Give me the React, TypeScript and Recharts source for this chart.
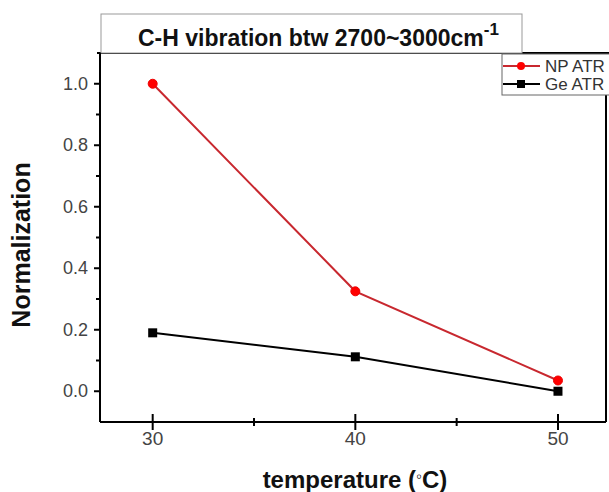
import React from "react";
import { LineChart, Line, XAxis, YAxis, Customized } from "recharts";

const temperatures = [30, 40, 50];
const npAtr = [1.0, 0.325, 0.035];
const geAtr = [0.19, 0.112, 0.0];
const xTicks = [30, 35, 40, 45, 50];
const xMajor = [30, 40, 50];
const yTicks = [0, 0.1, 0.2, 0.3, 0.4, 0.5, 0.6, 0.7, 0.8, 0.9, 1.0];
const yMajor = [0, 0.2, 0.4, 0.6, 0.8, 1.0];
const titleText = "C-H vibration btw 2700~3000cm";
const titleSup = "-1";
const xLabel = "temperature (";
const yLabel = "Normalization";
const seriesNames = ["NP ATR", "Ge ATR"];

const data = temperatures.map((t, i) => ({ t, np: npAtr[i], ge: geAtr[i] }));

const FONT = "Arial, 'Liberation Sans', sans-serif";

const XTick = (props: any) => {
  const { x, y, payload } = props;
  const major = xMajor.includes(payload.value);
  return (
    <g>
      <line x1={x} x2={x} y1={y - (major ? 8 : 4)} y2={y + (major ? 8 : 4)} stroke="#000" strokeWidth={2} />
      {major && (
        <text x={x} y={y + 23} textAnchor="middle" fontSize={19} fill="#444" fontFamily={FONT}>
          {payload.value}
        </text>
      )}
    </g>
  );
};

const YTick = (props: any) => {
  const { x, y, payload } = props;
  const major = yMajor.some((v) => Math.abs(v - payload.value) < 1e-6);
  return (
    <g>
      <line x1={x - (major ? 6 : 4)} x2={x} y1={y} y2={y} stroke="#000" strokeWidth={2} />
      {major && (
        <text x={x - 12} y={y + 6} textAnchor="end" fontSize={18} fill="#444" fontFamily={FONT}>
          {payload.value.toFixed(1)}
        </text>
      )}
    </g>
  );
};

const RedDot = (props: any) => {
  const { cx, cy, index } = props;
  return <circle key={"r" + index} cx={cx} cy={cy} r={4.5} fill="#ff0000" stroke="#e00" />;
};

const BlackSquare = (props: any) => {
  const { cx, cy, index } = props;
  return <rect key={"b" + index} x={cx - 4.5} y={cy - 4.5} width={9} height={9} fill="#000" />;
};

const Decorations = () => (
  <g fontFamily={FONT}>
    {/* frame top and right */}
    <line x1={97} x2={609} y1={53} y2={53} stroke="#000" strokeWidth={2} />
    <line x1={606} x2={606} y1={53} y2={422} stroke="#000" strokeWidth={2} />
    {/* title box */}
    <rect x={101} y={14} width={421} height={39} fill="#fff" stroke="#999" strokeWidth={1} />
    <text x={138} y={46} fontSize={23} fontWeight="bold" fill="#111">
      {titleText}
      <tspan dy={-11} fontSize={17}>{titleSup}</tspan>
    </text>
    {/* legend */}
    <rect x={502} y={54} width={120} height={41} fill="#fff" stroke="#666" strokeWidth={1} />
    <line x1={503} x2={540} y1={66} y2={66} stroke="#c8282f" strokeWidth={2} />
    <circle cx={521} cy={66} r={4} fill="#ff0000" />
    <text x={545} y={72} fontSize={17} fill="#333">{seriesNames[0]}</text>
    <line x1={503} x2={540} y1={84} y2={84} stroke="#000" strokeWidth={2} />
    <rect x={517} y={80} width={8} height={8} fill="#000" />
    <text x={545} y={90} fontSize={17} fill="#333">{seriesNames[1]}</text>
    {/* axis titles */}
    <text x={355} y={488} textAnchor="middle" fontSize={24} fontWeight="bold" fill="#111">
      {xLabel}
      <tspan fontWeight="normal" fontSize={17} dy={-6}>{"\u25E6"}</tspan>
      <tspan dy={6}>{"C)"}</tspan>
    </text>
    <text
      x={30}
      y={245}
      transform="rotate(-90 30 245)"
      textAnchor="middle"
      fontSize={25}
      fontWeight="bold"
      fill="#111"
    >
      {yLabel}
    </text>
  </g>
);

export default function App() {
  return (
    <div style={{ position: "absolute", left: 0, top: 0, background: "#fff" }}>
      <LineChart
        width={609}
        height={492}
        data={data}
        margin={{ top: 53, right: 3, bottom: 40, left: 40 }}
      >
        <XAxis
          dataKey="t"
          type="number"
          domain={[27.4, 52.37]}
          ticks={xTicks}
          tick={<XTick />}
          tickSize={0}
          tickMargin={0}
          tickLine={false}
          axisLine={{ stroke: "#000", strokeWidth: 2 }}
          height={30}
          interval={0}
          allowDataOverflow
        />
        <YAxis
          type="number"
          domain={[-0.1, 1.1]}
          ticks={yTicks}
          tick={<YTick />}
          tickSize={0}
          tickMargin={0}
          tickLine={false}
          axisLine={{ stroke: "#000", strokeWidth: 2 }}
          width={60}
          interval={0}
          allowDataOverflow
        />
        <Line
          dataKey="np"
          stroke="#c8282f"
          strokeWidth={2}
          dot={<RedDot />}
          activeDot={false}
          isAnimationActive={false}
        />
        <Line
          dataKey="ge"
          stroke="#000"
          strokeWidth={2}
          dot={<BlackSquare />}
          activeDot={false}
          isAnimationActive={false}
        />
        <Customized component={Decorations} />
      </LineChart>
    </div>
  );
}
